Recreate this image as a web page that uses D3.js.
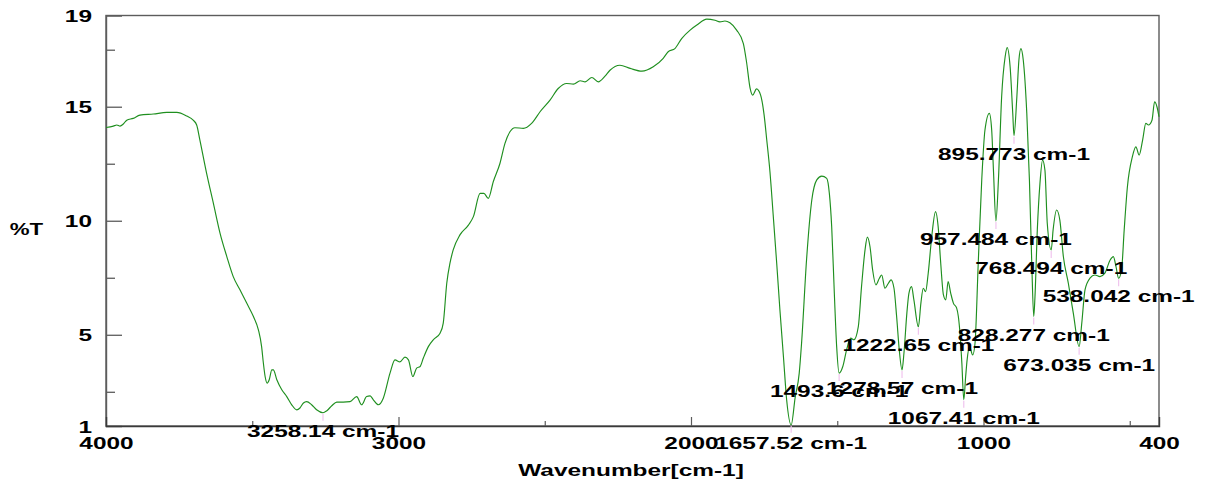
<!DOCTYPE html>
<html>
<head>
<meta charset="utf-8">
<script src="https://cdn.jsdelivr.net/npm/d3@7"></script>
<style>
  html, body { margin: 0; padding: 0; background: #fff; }
  svg { display: block; }
</style>
</head>
<body>
<svg id="chart" width="1205" height="486"></svg>
<script>
// IR spectrum: [wavenumber (cm-1), transmittance (%T)]
const spectrum = [
  [4000,14.09],[3975,14.15],[3963,14.20],[3952,14.15],[3941,14.24],[3929,14.41],[3907,14.49],
  [3884,14.63],[3838,14.68],[3792,14.75],[3758,14.75],[3724,14.59],[3702,14.41],[3690,14.20],
  [3679,13.54],[3656,12.08],[3633,10.77],[3610,9.45],[3587,8.43],[3565,7.55],[3542,6.97],
  [3519,6.39],[3496,5.80],[3479,5.22],[3468,4.48],[3462,3.76],[3456,3.17],[3449,2.88],
  [3442,3.03],[3433,3.46],[3428,3.46],[3416,3.03],[3399,2.59],[3382,2.29],[3365,1.93],
  [3348,1.71],[3337,1.79],[3325,2.01],[3314,2.07],[3297,1.93],[3280,1.71],[3258.14,1.58],
  [3245,1.67],[3228,1.89],[3211,2.05],[3189,2.05],[3166,2.07],[3143,2.29],[3126,1.93],
  [3109,2.29],[3097,2.32],[3086,2.15],[3069,1.93],[3052,2.22],[3029,3.32],[3012,3.90],
  [2995,3.81],[2978,4.02],[2966,3.90],[2951,3.17],[2938,3.54],[2926,3.61],[2915,3.98],
  [2898,4.48],[2881,4.78],[2858,5.07],[2847,5.51],[2835,7.26],[2824,8.14],[2813,8.72],
  [2790,9.38],[2761,9.81],[2744,10.18],[2721,11.20],[2708,11.20],[2693,10.98],[2676,11.71],
  [2653,12.52],[2636,13.39],[2619,13.90],[2602,14.08],[2573,14.05],[2545,14.27],[2516,14.78],
  [2482,15.29],[2454,15.80],[2425,16.02],[2402,15.99],[2379,16.14],[2362,16.09],[2339,16.28],
  [2317,16.09],[2294,16.34],[2277,16.60],[2243,16.82],[2208,16.68],[2168,16.56],[2129,16.75],
  [2095,17.12],[2078,17.41],[2055,17.55],[2032,17.99],[2003,18.36],[1980,18.58],[1946,18.84],
  [1918,18.79],[1901,18.72],[1884,18.76],[1867,18.68],[1844,18.36],[1821,17.77],[1810,16.95],
  [1798,15.82],[1789,15.51],[1776,15.78],[1762,15.51],[1750,14.63],[1741,13.54],[1730,12.14],
  [1719,10.25],[1707,8.14],[1696,6.09],[1684,4.05],[1673,2.15],[1657.52,1.05],[1644,2.24],
  [1630,3.32],[1622,4.63],[1605,8.28],[1587,10.91],[1570,11.79],[1553,11.96],[1536,11.86],
  [1527,11.20],[1519,9.74],[1510,6.82],[1502,4.48],[1493.6,3.32],[1481,3.61],[1468,4.34],
  [1454,4.85],[1443,4.78],[1428,5.36],[1417,7.11],[1405,8.72],[1397,9.28],[1388,8.86],
  [1379,7.84],[1368,7.19],[1356,7.48],[1348,7.62],[1337,7.04],[1325,7.26],[1316,7.41],
  [1306,7.04],[1297,5.80],[1288,4.34],[1278.57,3.46],[1272,4.19],[1262,5.95],[1255,6.82],
  [1246,7.11],[1238,6.53],[1222.65,5.35],[1214,6.39],[1206,7.04],[1198,6.89],[1189,7.70],
  [1177,9.30],[1164,10.40],[1155,9.74],[1147,8.28],[1137,6.75],[1129,6.53],[1121,7.33],
  [1112,6.82],[1103,6.39],[1092,6.18],[1086,5.80],[1080,5.00],[1074,3.76],[1067.41,2.15],
  [1061,3.17],[1056,3.90],[1048,4.48],[1037,4.12],[1029,4.63],[1018,8.14],[1006,11.79],
  [995,13.98],[980,14.71],[972,13.98],[966,12.22],[957.484,9.99],[949,11.79],[938,15.43],
  [926,17.19],[919,17.59],[909,16.75],[900,14.71],[895.773,13.73],[886,15.43],[879,17.04],
  [872,17.55],[864,17.04],[852,14.71],[843,11.79],[835,8.14],[828.277,5.80],[824,6.67],
  [816,9.60],[807,11.64],[798,12.66],[790,12.22],[782,9.89],[768.494,8.72],[762,9.60],
  [750,10.47],[739,10.03],[727,8.43],[710,7.26],[693,5.95],[673.035,4.48],[664,5.51],
  [653,6.97],[636,7.48],[619,7.62],[602,7.55],[585,7.70],[567,8.28],[556,8.43],[547,7.99],
  [538.042,7.48],[528,7.84],[519,9.60],[508,11.49],[491,12.81],[479,13.24],[468,12.88],
  [456,13.54],[445,14.27],[436,14.20],[424,14.41],[415,15.22],[407,15.00],[400,14.56]
];

// Picked band positions (cm-1) and their annotations
const peakWavenumbers = [3258.14, 1657.52, 1493.6, 1278.57, 1222.65, 1067.41,
                         957.484, 895.773, 828.277, 768.494, 673.035, 538.042];
const peakLabels = ["3258.14 cm-1", "1657.52 cm-1", "1493.6 cm-1", "1278.57 cm-1",
                    "1222.65 cm-1", "1067.41 cm-1", "957.484 cm-1", "895.773 cm-1",
                    "828.277 cm-1", "768.494 cm-1", "673.035 cm-1", "538.042 cm-1"];

// Axis ticks
const xTickValues = [4000, 3000, 2000, 1000, 400];
const xMinorTickValues = [3500, 2500, 1500, 500];
const yTickValues = [1, 5, 10, 15, 19];
const yMinorTickValues = [2.5, 7.5, 12.5, 17.5];
const xTitle = "Wavenumber[cm-1]";
const yTitle = "%T";

// ---------- layout ----------
const plot = { left: 106, right: 1159, top: 15.5, bottom: 426 };
const FONT = "'Liberation Sans', Arial, Helvetica, sans-serif";
const FONT_SIZE = 16.5;
const STRETCH = 1.48;          // wide lettering
const FRAME = "#5c5c5c";
const LINE = "#1f8f1f";

const x = d3.scaleLinear().domain([4000, 400]).range([plot.left, plot.right]);
const y = d3.scaleLinear().domain([1, 19]).range([plot.bottom, plot.top]);

const svg = d3.select("#chart");

function styleText(sel) {
  sel.attr("font-family", FONT)
     .attr("font-weight", "bold")
     .attr("font-size", FONT_SIZE)
     .attr("fill", "#000");
}

// plot frame
svg.append("rect")
  .attr("x", plot.left).attr("y", plot.top)
  .attr("width", plot.right - plot.left).attr("height", plot.bottom - plot.top)
  .attr("fill", "none").attr("stroke", FRAME).attr("stroke-width", 1.4);

// ---------- y axis ----------
const yAxis = svg.append("g")
  .attr("transform", `translate(${plot.left},0)`)
  .call(d3.axisLeft(y).tickValues(yTickValues).tickSize(-16).tickFormat(d3.format("d")));
yAxis.select(".domain").attr("stroke", FRAME).attr("stroke-width", 1.4);
yAxis.selectAll(".tick line").attr("stroke", FRAME).attr("stroke-width", 1.3);
yAxis.selectAll(".tick line").filter(d => d === 1 || d === 19).remove();
yAxis.selectAll(".tick text")
  .attr("x", null).attr("dy", null)
  .attr("text-anchor", "end")
  .attr("transform", `translate(-14,6) scale(${STRETCH},1)`)
  .call(styleText);

const yMinor = svg.append("g")
  .attr("transform", `translate(${plot.left},0)`)
  .call(d3.axisLeft(y).tickValues(yMinorTickValues).tickSize(-9).tickFormat(""));
yMinor.select(".domain").remove();
yMinor.selectAll(".tick line").attr("stroke", FRAME).attr("stroke-width", 1.3);

// ---------- x axis ----------
const xAxis = svg.append("g")
  .attr("transform", `translate(0,${plot.bottom})`)
  .call(d3.axisBottom(x).tickValues(xTickValues).tickSize(-9).tickFormat(d3.format("d")));
xAxis.select(".domain").attr("stroke", "#3a3a3a").attr("stroke-width", 1.4);
xAxis.selectAll(".tick line").attr("stroke", FRAME).attr("stroke-width", 1.2);
xAxis.selectAll(".tick line").filter(d => d === 4000 || d === 400).remove();
xAxis.selectAll(".tick text")
  .attr("y", null).attr("dy", null)
  .attr("text-anchor", "middle")
  .attr("transform", `translate(0,23) scale(${STRETCH},1)`)
  .call(styleText);

const xMinor = svg.append("g")
  .attr("transform", `translate(0,${plot.bottom})`)
  .call(d3.axisBottom(x).tickValues(xMinorTickValues).tickSize(-5).tickFormat(""));
xMinor.select(".domain").remove();
xMinor.selectAll(".tick line").attr("stroke", FRAME).attr("stroke-width", 1.2);

// axis titles
svg.append("text")
  .attr("text-anchor", "middle")
  .attr("transform", `translate(26.5,235) scale(1.35,1)`)
  .text(yTitle).call(styleText);
svg.append("text")
  .attr("text-anchor", "middle")
  .attr("transform", `translate(631,476) scale(${STRETCH},1)`)
  .text(xTitle).call(styleText);

// ---------- spectrum ----------
const line = d3.line()
  .x(d => x(d[0]))
  .y(d => y(d[1]))
  .curve(d3.curveMonotoneX);

svg.append("path")
  .datum(spectrum)
  .attr("d", line)
  .attr("fill", "none")
  .attr("stroke", LINE)
  .attr("stroke-width", 1.15)
  .attr("stroke-linejoin", "round");

// ---------- peak picks ----------
const peaks = peakWavenumbers.map((wn, i) => ({
  wn, label: peakLabels[i],
  t: spectrum.find(d => d[0] === wn)[1]
}));

svg.append("g").selectAll("line")
  .data(peaks).join("line")
  .attr("x1", d => x(d.wn)).attr("x2", d => x(d.wn))
  .attr("y1", d => y(d.t) + 1).attr("y2", d => y(d.t) + 8)
  .attr("stroke", "#f0c4ee").attr("stroke-width", 1.2);

svg.append("g").selectAll("text")
  .data(peaks).join("text")
  .attr("text-anchor", "middle")
  .attr("transform", d => `translate(${x(d.wn)},${y(d.t) + 24}) scale(${STRETCH},1)`)
  .text(d => d.label)
  .call(styleText);
</script>
</body>
</html>
